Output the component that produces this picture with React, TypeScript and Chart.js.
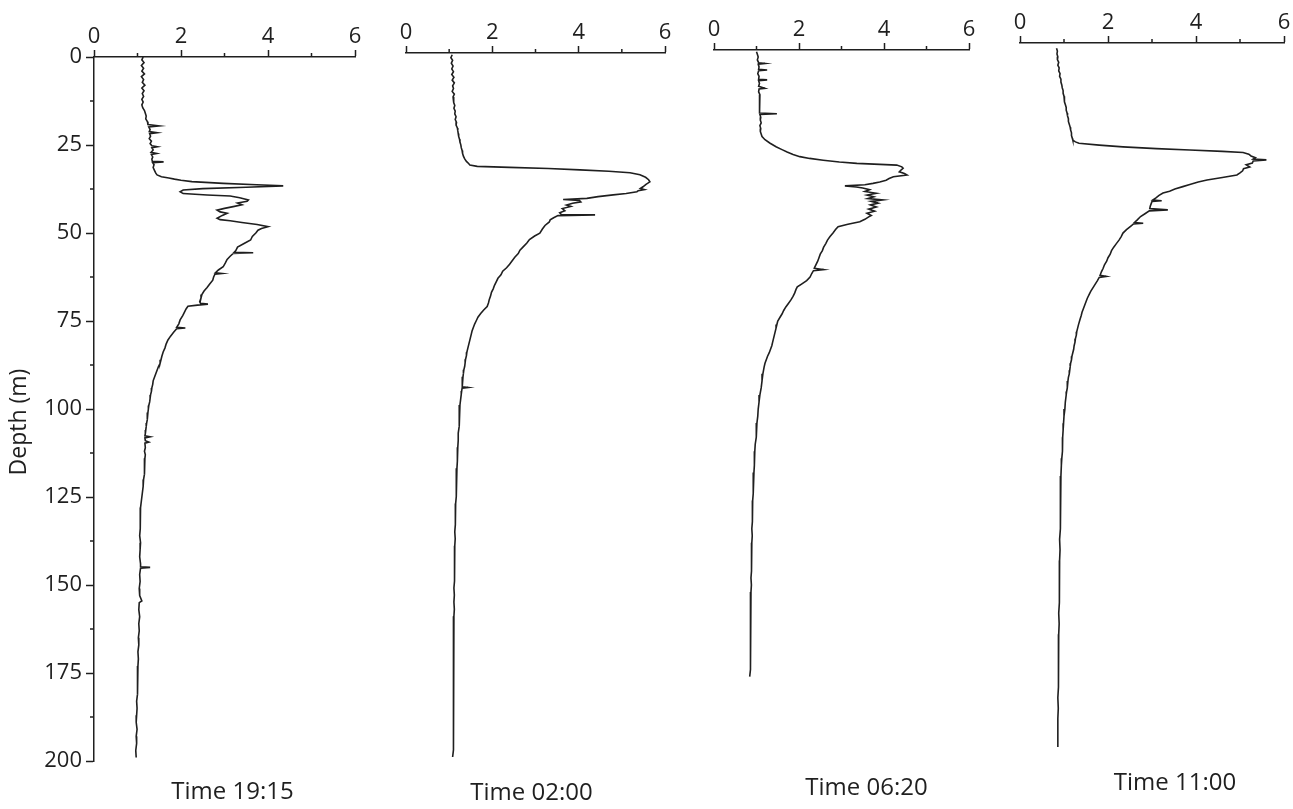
import React, { useEffect, useRef } from 'react';
import { Chart, registerables } from 'chart.js';

Chart.register(...registerables);

const FONT = '"Open Sans", "Noto Sans", "DejaVu Sans", sans-serif';
const INK = '#1f1f1f';
const PAGE_W = 1293;
const PAGE_H = 809;

const panelTitles = ['Time 19:15', 'Time 02:00', 'Time 06:20', 'Time 11:00'];
const valueMin = 0;
const valueMax = 6;
const depthMin = 0;
const depthMax = 200;
const yAxisTitle = 'Depth (m)';

// [depth (m), value]
const profile1915: [number, number][] = [
  [0, 1.13], [0.8, 1.1], [1.6, 1.15], [2.4, 1.09], [3.2, 1.14], [4, 1.1], [4.8, 1.16], [5.6, 1.09], [6.4, 1.14], [7.2, 1.11],
  [8, 1.17], [8.8, 1.1], [9.6, 1.15], [10.4, 1.11], [11.2, 1.14], [12, 1.1], [12.8, 1.13], [13.6, 1.1], [14.4, 1.12], [15.2, 1.16],
  [16, 1.18], [16.8, 1.2], [17.6, 1.19], [18.4, 1.23], [19.2, 1.24], [19.6, 1.5], [19.9, 1.26], [20.6, 1.29], [21.2, 1.27], [21.5, 1.45],
  [21.8, 1.28], [22.5, 1.3], [23.2, 1.27], [23.9, 1.32], [24.6, 1.29], [25.2, 1.33], [25.5, 1.46], [25.8, 1.33], [26.4, 1.36], [27.1, 1.31],
  [27.4, 1.44], [27.7, 1.32], [28.4, 1.35], [29.0, 1.33], [29.6, 1.34], [29.8, 1.6], [30.0, 1.35], [30.6, 1.38], [31.4, 1.36], [32.2, 1.39],
  [33.0, 1.42], [33.5, 1.45], [34.0, 1.55], [34.4, 1.72], [34.7, 1.85], [35.0, 2.0], [35.4, 2.25], [35.9, 2.97], [36.3, 3.74], [36.6, 4.35],
  [37.0, 3.5], [37.4, 2.5], [37.8, 2.05], [38.3, 1.98], [38.8, 2.05], [39.2, 2.6], [39.5, 3.13], [40.0, 3.35], [40.6, 3.55], [41.0, 3.52],
  [41.5, 3.3], [42.0, 3.4], [42.5, 3.2], [43.0, 3.0], [43.5, 2.83], [44.0, 2.9], [44.4, 3.06], [45.0, 2.95], [45.8, 2.83], [46.2, 2.9],
  [46.5, 3.13], [47.0, 3.4], [47.6, 3.75], [48.2, 4.0], [48.7, 3.85], [49.2, 3.77], [50.0, 3.72], [51.0, 3.64], [52.0, 3.6], [53.0, 3.45],
  [54.0, 3.3], [55.0, 3.26], [55.5, 3.22], [55.6, 3.66], [55.8, 3.2], [56.6, 3.13], [57.5, 3.06], [58.5, 3.02], [59.6, 2.97], [60.5, 2.86],
  [61.3, 2.79], [61.5, 2.94], [61.7, 2.78], [62.5, 2.75], [63.4, 2.73], [64.5, 2.66], [65.5, 2.6], [66.5, 2.53], [67.5, 2.48], [68.5, 2.46],
  [69.5, 2.43], [70.0, 2.45], [70.2, 2.62], [70.5, 2.38], [70.8, 2.16], [71.5, 2.12], [72.5, 2.08], [73.5, 2.04], [74.7, 1.98], [75.8, 1.95],
  [76.8, 1.9], [77.0, 2.1], [77.2, 1.9], [78.2, 1.83], [79.3, 1.76], [80.4, 1.7], [81.5, 1.66], [82.7, 1.63], [83.8, 1.59], [85, 1.56],
  [86, 1.54], [87, 1.52], [88, 1.48], [89, 1.45], [90, 1.42], [91, 1.39], [92, 1.36], [93, 1.35], [94, 1.33], [95, 1.32],
  [96, 1.3], [97, 1.29], [98, 1.28], [99, 1.26], [100, 1.25], [101, 1.24], [102, 1.23], [103, 1.22], [104, 1.21], [105, 1.2],
  [106, 1.19], [107, 1.18], [107.6, 1.17], [107.9, 1.29], [108.2, 1.17], [109, 1.18], [109.4, 1.26], [109.7, 1.17], [111, 1.18], [112, 1.16],
  [113, 1.18], [114, 1.17], [115.5, 1.16], [117, 1.17], [118.5, 1.15], [120, 1.14], [122, 1.13], [124, 1.11], [126, 1.09], [128, 1.07],
  [130, 1.06], [132, 1.07], [134, 1.06], [136, 1.05], [138, 1.07], [140, 1.06], [142, 1.05], [144, 1.07], [144.8, 1.07], [145.0, 1.29],
  [145.2, 1.07], [147, 1.05], [149, 1.06], [151, 1.04], [153, 1.05], [154.5, 1.1], [155, 1.04], [157, 1.03], [159, 1.05], [161, 1.03],
  [163, 1.04], [165, 1.02], [167, 1.03], [169, 1.01], [171, 1.02], [173, 1.01], [175, 1.0], [177, 1.01], [179, 0.99], [181, 1.0],
  [183, 0.98], [185, 0.99], [187, 0.98], [189, 0.97], [191, 0.99], [193, 0.97], [195, 0.98], [197, 0.96], [199, 0.97],
];

const profile0200: [number, number][] = [
  [0.5, 1.07], [1.3, 1.04], [2.1, 1.08], [2.9, 1.05], [3.7, 1.09], [4.5, 1.06], [5.3, 1.1], [6.1, 1.06], [6.9, 1.11], [7.7, 1.07],
  [8.5, 1.12], [9.3, 1.08], [10.1, 1.1], [10.9, 1.07], [11.7, 1.12], [12.5, 1.09], [13.3, 1.11], [14.1, 1.1], [14.9, 1.13], [15.7, 1.11],
  [16.5, 1.14], [17.3, 1.13], [18.1, 1.16], [18.9, 1.14], [19.7, 1.17], [20.5, 1.16], [21.3, 1.19], [22.1, 1.2], [22.9, 1.21], [23.7, 1.22],
  [24.5, 1.24], [25.3, 1.25], [26.1, 1.27], [26.9, 1.28], [27.7, 1.3], [28.5, 1.31], [29.3, 1.33], [30.1, 1.36], [30.8, 1.4], [31.4, 1.45],
  [31.8, 1.48], [32.2, 1.65], [32.5, 2.4], [32.8, 3.3], [33.2, 4.03], [33.6, 4.7], [34.0, 5.19], [34.6, 5.42], [35.3, 5.55], [36.0, 5.62],
  [36.6, 5.65], [37.3, 5.56], [38.0, 5.49], [38.5, 5.43], [38.8, 5.52], [39.1, 5.38], [39.4, 5.35], [39.9, 5.1], [40.3, 4.8], [40.8, 4.45],
  [41.3, 4.19], [41.6, 3.64], [41.9, 4.02], [42.3, 4.05], [42.7, 3.86], [43.2, 3.72], [43.6, 3.82], [44.2, 3.62], [44.8, 3.68], [45.4, 3.56],
  [45.9, 3.6], [46.0, 4.38], [46.2, 3.52], [46.8, 3.42], [47.4, 3.34], [48.0, 3.32], [49.0, 3.22], [50.0, 3.16], [51.2, 3.1], [52.0, 2.98],
  [53.0, 2.86], [54.0, 2.8], [55.0, 2.72], [56.0, 2.64], [57.0, 2.6], [58.0, 2.52], [59.0, 2.46], [60.0, 2.4], [61.0, 2.33], [62.0, 2.24],
  [63.0, 2.2], [64.0, 2.13], [65.0, 2.09], [66.0, 2.05], [67.0, 2.02], [68.0, 1.98], [69.0, 1.96], [70.0, 1.93], [71.0, 1.91], [72.0, 1.88],
  [73.0, 1.8], [74.0, 1.73], [75.0, 1.67], [76.0, 1.63], [77.0, 1.59], [78.0, 1.56], [79.0, 1.53], [80.0, 1.51], [81.0, 1.49], [82.0, 1.47],
  [83.0, 1.45], [84.0, 1.43], [85.0, 1.41], [86.0, 1.4], [87.0, 1.38], [88.0, 1.37], [89.0, 1.36], [90.0, 1.34], [91.0, 1.33], [92.0, 1.32],
  [93.0, 1.31], [94.0, 1.3], [94.8, 1.3], [95.0, 1.44], [95.2, 1.3], [96.0, 1.29], [97.0, 1.28], [98.0, 1.27], [100, 1.25], [102, 1.24],
  [104, 1.23], [106, 1.23], [108, 1.21], [110, 1.21], [112, 1.2], [114, 1.19], [116, 1.19], [118, 1.18], [120, 1.17], [122, 1.17],
  [124, 1.16], [126, 1.16], [128, 1.15], [130, 1.15], [132, 1.14], [134, 1.14], [136, 1.13], [138, 1.14], [140, 1.13], [142, 1.13],
  [144, 1.12], [146, 1.13], [148, 1.12], [150, 1.12], [152, 1.11], [154, 1.12], [156, 1.11], [158, 1.12], [160, 1.11], [162, 1.11],
  [164, 1.1], [166, 1.11], [168, 1.1], [170, 1.11], [172, 1.1], [174, 1.1], [176, 1.11], [178, 1.1], [180, 1.1], [182, 1.09],
  [184, 1.1], [186, 1.1], [188, 1.09], [190, 1.1], [192, 1.09], [194, 1.1], [196, 1.09], [198, 1.09], [200, 1.08],
];

const profile0620: [number, number][] = [
  [0.5, 1.0], [1.2, 1.02], [2, 1.04], [2.8, 1.02], [3.6, 1.05], [3.8, 1.2], [4.0, 1.04], [4.8, 1.06], [5.5, 1.05], [5.7, 1.25],
  [5.9, 1.05], [6.7, 1.03], [7.5, 1.06], [8.3, 1.05], [8.5, 1.25], [8.7, 1.05], [9.5, 1.07], [10.3, 1.05], [10.9, 1.2], [11.1, 1.06],
  [11.9, 1.05], [12.7, 1.08], [13.5, 1.06], [14.3, 1.07], [15.1, 1.08], [15.9, 1.06], [16.7, 1.08], [17.5, 1.07], [17.9, 1.08], [18.1, 1.48],
  [18.3, 1.08], [19.1, 1.1], [19.9, 1.09], [20.7, 1.11], [21.5, 1.08], [22.3, 1.1], [23.1, 1.09], [23.9, 1.11], [24.6, 1.13], [25.5, 1.2],
  [26.5, 1.32], [27.5, 1.46], [28.3, 1.6], [29.0, 1.72], [29.7, 1.86], [30.3, 2.02], [30.8, 2.25], [31.3, 2.57], [31.8, 2.95], [32.2, 3.36],
  [32.5, 3.9], [32.7, 4.3], [33.2, 4.42], [33.6, 4.45], [34.1, 4.4], [34.6, 4.36], [35.1, 4.48], [35.5, 4.54], [36.0, 4.22], [36.5, 4.12],
  [37.0, 4.05], [37.5, 3.9], [37.9, 3.74], [38.3, 3.55], [38.6, 3.08], [38.9, 3.35], [39.2, 3.5], [39.7, 3.66], [40.2, 3.55], [40.7, 3.82],
  [41.2, 3.6], [41.7, 3.76], [42.2, 3.62], [42.6, 3.97], [43.0, 3.7], [43.5, 3.86], [44.0, 3.68], [44.6, 3.82], [45.2, 3.64], [45.8, 3.78],
  [46.4, 3.6], [47.0, 3.7], [47.4, 3.64], [48.1, 3.55], [48.8, 3.43], [49.5, 3.15], [50.2, 2.92], [51.0, 2.86], [52.0, 2.8], [53.0, 2.73],
  [54.0, 2.67], [55.0, 2.63], [56.0, 2.58], [57.0, 2.55], [58.0, 2.5], [59.0, 2.47], [60.0, 2.44], [61.0, 2.4], [62.0, 2.36], [62.4, 2.58],
  [62.7, 2.34], [63.5, 2.3], [64.5, 2.26], [65.5, 2.18], [66.5, 2.06], [67.3, 1.96], [68.0, 1.93], [69.0, 1.9], [70.0, 1.86], [71.0, 1.81],
  [72.0, 1.75], [73.0, 1.69], [74.0, 1.64], [75.0, 1.6], [76.0, 1.55], [77.0, 1.5], [78.0, 1.48], [79.0, 1.46], [80.0, 1.44], [81.0, 1.42],
  [82.0, 1.4], [83.0, 1.38], [84.0, 1.36], [85.0, 1.33], [86.0, 1.3], [87.0, 1.26], [88.0, 1.23], [89.0, 1.2], [90.0, 1.18], [92, 1.15],
  [94, 1.13], [96, 1.11], [98, 1.08], [100, 1.06], [102, 1.04], [104, 1.03], [106, 1.01], [108, 1.0], [110, 0.99], [112, 0.97],
  [114, 0.96], [116, 0.95], [118, 0.95], [120, 0.94], [122, 0.93], [124, 0.92], [126, 0.92], [128, 0.91], [130, 0.91], [132, 0.9],
  [134, 0.9], [136, 0.89], [138, 0.9], [140, 0.89], [142, 0.88], [144, 0.89], [146, 0.88], [148, 0.88], [150, 0.87], [152, 0.88],
  [154, 0.87], [156, 0.87], [158, 0.86], [160, 0.87], [162, 0.86], [164, 0.86], [166, 0.85], [168, 0.86], [170, 0.85], [172, 0.86],
  [174, 0.85], [176, 0.85], [178, 0.84],
];

const profile1100: [number, number][] = [
  [1.5, 0.83], [2.3, 0.85], [3.1, 0.84], [3.9, 0.86], [4.7, 0.85], [5.5, 0.88], [6.3, 0.86], [7.1, 0.89], [7.9, 0.88], [8.7, 0.91],
  [9.5, 0.9], [10.3, 0.93], [11.1, 0.93], [11.9, 0.95], [12.7, 0.96], [13.5, 0.98], [14.3, 0.98], [15.1, 1.0], [15.9, 1.0], [16.7, 1.02],
  [17.5, 1.03], [18.3, 1.05], [19.1, 1.05], [19.9, 1.07], [20.7, 1.08], [21.5, 1.1], [22.3, 1.1], [23.1, 1.12], [23.9, 1.14], [24.7, 1.15],
  [25.5, 1.17], [26.3, 1.17], [27.1, 1.19], [27.6, 1.2], [28.1, 1.26], [28.5, 1.34], [29.0, 1.8], [29.5, 2.34], [30.0, 3.1], [30.4, 3.86],
  [30.8, 4.6], [31.1, 5.07], [31.6, 5.2], [32.1, 5.25], [32.6, 5.35], [33.0, 5.3], [33.2, 5.6], [33.5, 5.3], [34.1, 5.28], [34.6, 5.14],
  [35.2, 5.22], [35.7, 5.08], [36.3, 5.06], [36.9, 5.0], [37.5, 4.93], [38.2, 4.6], [38.9, 4.25], [39.5, 4.05], [40.2, 3.86], [40.8, 3.7],
  [41.5, 3.52], [42.1, 3.4], [42.6, 3.25], [43.3, 3.16], [44.0, 3.09], [44.6, 3.02], [44.8, 3.22], [45.0, 3.0], [45.7, 2.98], [46.4, 2.96],
  [47.0, 2.95], [47.4, 3.36], [47.7, 2.94], [48.5, 2.84], [49.3, 2.74], [50.3, 2.66], [51.0, 2.6], [51.2, 2.8], [51.4, 2.58], [52.0, 2.52],
  [53.0, 2.42], [54.0, 2.34], [55.0, 2.3], [56.0, 2.25], [57.0, 2.19], [58.0, 2.13], [59.0, 2.08], [60.0, 2.05], [61.0, 2.0], [62.0, 1.97],
  [63.0, 1.92], [64.0, 1.89], [65.0, 1.85], [66.0, 1.82], [66.3, 1.96], [66.6, 1.8], [67.5, 1.76], [68.5, 1.71], [69.5, 1.66], [70.5, 1.61],
  [71.5, 1.57], [72.5, 1.53], [73.5, 1.5], [74.5, 1.47], [75.5, 1.44], [76.5, 1.41], [77.5, 1.39], [78.7, 1.36], [80, 1.33], [81, 1.31],
  [82, 1.29], [83, 1.28], [84, 1.26], [85, 1.25], [86, 1.23], [87, 1.22], [88, 1.2], [89, 1.18], [90, 1.17], [91, 1.15],
  [92, 1.14], [93, 1.13], [94, 1.12], [95, 1.1], [96, 1.09], [97, 1.08], [98, 1.07], [99, 1.06], [100, 1.05], [102, 1.03],
  [104, 1.02], [106, 1.0], [108, 0.99], [110, 0.98], [112, 0.97], [114, 0.97], [116, 0.96], [118, 0.95], [120, 0.94], [123, 0.93],
  [126, 0.93], [129, 0.92], [132, 0.92], [135, 0.91], [138, 0.91], [141, 0.9], [144, 0.91], [147, 0.9], [150, 0.9], [153, 0.89],
  [156, 0.9], [159, 0.89], [162, 0.88], [165, 0.89], [168, 0.88], [171, 0.88], [174, 0.87], [177, 0.88], [180, 0.87], [183, 0.87],
  [186, 0.86], [189, 0.87], [192, 0.86], [195, 0.86], [198, 0.86], [200, 0.86],
];

const profiles = [profile1915, profile0200, profile0620, profile1100];

// plot-area placement of each panel on the page
const panelBoxes = [
  { left: 94, right: 355, top: 57, titleDx: 8, titleY: 792 },
  { left: 406, right: 665, top: 53, titleDx: -4, titleY: 793 },
  { left: 714, right: 969, top: 50, titleDx: 25, titleY: 788 },
  { left: 1020, right: 1284, top: 43, titleDx: 23, titleY: 783 },
];
const PLOT_H = 704;
const X_AXIS_H = 40;
const Y_AXIS_W = 93;
const Y_TITLE_X = 19;
const Y_TITLE_Y = 422;

const minorTicksPlugin = {
  id: 'minorTicks',
  afterDraw(chart: any) {
    const { ctx } = chart;
    ctx.save();
    ctx.strokeStyle = INK;
    ctx.lineWidth = 1.5;
    const xs = chart.scales.x;
    xs.ticks.forEach((t: any) => {
      if (Math.abs(t.value % 2) > 1e-6) {
        const px = xs.getPixelForValue(t.value);
        ctx.beginPath();
        ctx.moveTo(px, xs.bottom);
        ctx.lineTo(px, xs.bottom - 4);
        ctx.stroke();
      }
    });
    const ys = chart.scales.y;
    if (ys && ys.options.display) {
      ys.ticks.forEach((t: any) => {
        if (Math.abs(t.value % 25) > 1e-6) {
          const py = ys.getPixelForValue(t.value);
          ctx.beginPath();
          ctx.moveTo(ys.right, py);
          ctx.lineTo(ys.right - 4, py);
          ctx.stroke();
        }
      });
    }
    ctx.restore();
  },
};

const panelTextPlugin = {
  id: 'panelText',
  afterDraw(chart: any, _args: any, opts: any) {
    const { ctx, chartArea } = chart;
    ctx.save();
    ctx.fillStyle = INK;
    ctx.textAlign = 'center';
    ctx.textBaseline = 'middle';
    ctx.font = `24px ${FONT}`;
    ctx.fillText(opts.text, (chartArea.left + chartArea.right) / 2 + opts.dx, opts.y);
    if (opts.yTitle) {
      ctx.font = `23px ${FONT}`;
      ctx.translate(Y_TITLE_X, Y_TITLE_Y);
      ctx.rotate(-Math.PI / 2);
      ctx.fillText(opts.yTitle, 0, 0);
    }
    ctx.restore();
  },
};

function Panel({ index }: { index: number }) {
  const ref = useRef<HTMLCanvasElement | null>(null);
  useEffect(() => {
    if (!ref.current) return;
    const box = panelBoxes[index];
    const bottom = box.top + PLOT_H;
    const showY = index === 0;
    const wY = showY ? Y_AXIS_W : 0;
    const chart = new Chart(ref.current, {
      type: 'line',
      data: {
        datasets: [
          {
            data: profiles[index].map(([d, v]) => ({ x: v, y: d })),
            borderColor: INK,
            borderWidth: 1.6,
            pointRadius: 0,
            pointHoverRadius: 0,
            fill: false,
            tension: 0,
          },
        ],
      },
      options: {
        indexAxis: 'y',
        animation: false,
        responsive: false,
        devicePixelRatio: 1,
        events: [],
        layout: {
          padding: {
            left: box.left - wY,
            right: PAGE_W - box.right,
            top: box.top - X_AXIS_H,
            bottom: PAGE_H - bottom,
          },
        },
        plugins: {
          legend: { display: false },
          tooltip: { enabled: false },
          title: { display: false },
          panelText: {
            text: panelTitles[index],
            dx: box.titleDx,
            y: box.titleY,
            yTitle: showY ? yAxisTitle : '',
          },
        } as any,
        scales: {
          x: {
            type: 'linear',
            position: 'top',
            min: valueMin,
            max: valueMax,
            afterFit: (s: any) => {
              s.height = X_AXIS_H;
              s.paddingLeft = 0;
              s.paddingRight = 0;
            },
            ticks: {
              stepSize: 1,
              autoSkip: false,
              maxRotation: 0,
              padding: 0,
              color: INK,
              font: { family: FONT, size: 22 },
              callback: (v: any) => (Number(v) % 2 === 0 ? String(v) : ''),
            },
            grid: {
              drawOnChartArea: false,
              drawTicks: true,
              tickLength: 7,
              tickWidth: 1.5,
              tickColor: (c: any) => (c.tick && c.tick.value % 2 === 0 ? INK : 'rgba(0,0,0,0)'),
            },
            border: { display: true, color: INK, width: 1.5 },
          },
          y: {
            type: 'linear',
            position: 'left',
            reverse: true,
            min: depthMin,
            max: depthMax,
            display: showY,
            afterFit: (s: any) => {
              s.width = showY ? Y_AXIS_W : 0;
              s.paddingTop = 0;
              s.paddingBottom = 0;
            },
            title: { display: false },
            ticks: {
              stepSize: 12.5,
              autoSkip: false,
              padding: 4,
              color: INK,
              font: { family: FONT, size: 22 },
              callback: (v: any) => (Number(v) % 25 === 0 ? String(v) : ''),
            },
            grid: {
              drawOnChartArea: false,
              drawTicks: true,
              tickLength: 8,
              tickWidth: 1.5,
              tickColor: (c: any) => (c.tick && c.tick.value % 25 === 0 ? INK : 'rgba(0,0,0,0)'),
            },
            border: { display: true, color: INK, width: 1.5 },
          },
        },
      } as any,
      plugins: [minorTicksPlugin, panelTextPlugin],
    });
    return () => chart.destroy();
  }, [index]);
  return (
    <canvas
      ref={ref}
      width={PAGE_W}
      height={PAGE_H}
      style={{ position: 'absolute', left: 0, top: 0, width: PAGE_W, height: PAGE_H }}
    />
  );
}

export default function App() {
  return (
    <div
      style={{
        position: 'absolute',
        left: 0,
        top: 0,
        width: PAGE_W,
        height: PAGE_H,
        background: '#ffffff',
        overflow: 'hidden',
      }}
    >
      {panelTitles.map((_, i) => (
        <Panel key={i} index={i} />
      ))}
    </div>
  );
}
